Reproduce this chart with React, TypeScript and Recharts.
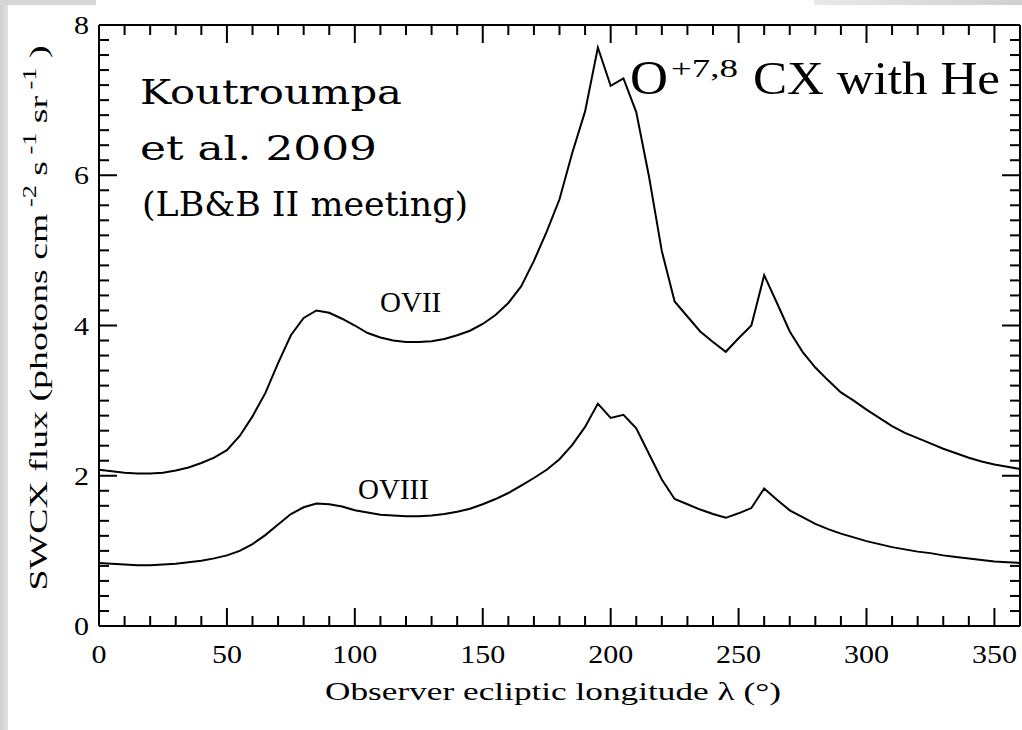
import React from 'react';
import { LineChart, Line, XAxis, YAxis } from 'recharts';

// Observer ecliptic longitude (degrees), sampled every 5°
const longitudes = [
  0, 5, 10, 15, 20, 25, 30, 35, 40, 45, 50, 55, 60, 65, 70, 75, 80, 85, 90, 95,
  100, 105, 110, 115, 120, 125, 130, 135, 140, 145, 150, 155, 160, 165, 170, 175,
  180, 185, 190, 195, 200, 205, 210, 215, 220, 225, 230, 235, 240, 245, 250, 255,
  260, 265, 270, 275, 280, 285, 290, 295, 300, 305, 310, 315, 320, 325, 330, 335,
  340, 345, 350, 355, 360,
];

// SWCX flux, O VII (photons cm^-2 s^-1 sr^-1)
const oviiFlux = [
  2.08, 2.06, 2.04, 2.03, 2.03, 2.04, 2.07, 2.11, 2.17, 2.24, 2.34, 2.53, 2.79, 3.1, 3.5, 3.87, 4.1, 4.2, 4.17, 4.09,
  4.0, 3.9, 3.84, 3.8, 3.78, 3.78, 3.79, 3.82, 3.87, 3.93, 4.02, 4.14, 4.3, 4.52, 4.86, 5.25,
  5.68, 6.3, 6.85, 7.7, 7.19, 7.29, 6.84, 5.98, 4.99, 4.32, 4.12, 3.92, 3.78, 3.65, 3.83, 4.0,
  4.67, 4.3, 3.92, 3.65, 3.44, 3.27, 3.11, 3.0, 2.88, 2.77, 2.66, 2.57, 2.5, 2.43, 2.36, 2.3,
  2.24, 2.19, 2.15, 2.12, 2.09,
];

// SWCX flux, O VIII
const oviiiFlux = [
  0.84, 0.83, 0.82, 0.81, 0.81, 0.82, 0.83, 0.85, 0.87, 0.9, 0.94, 1.0, 1.09, 1.21, 1.35, 1.49, 1.58, 1.63, 1.62, 1.59,
  1.54, 1.51, 1.48, 1.47, 1.46, 1.46, 1.47, 1.49, 1.52, 1.56, 1.62, 1.69, 1.77, 1.87, 1.97, 2.08,
  2.22, 2.41, 2.65, 2.96, 2.77, 2.81, 2.63, 2.29, 1.95, 1.69, 1.62, 1.55, 1.49, 1.44, 1.5, 1.57,
  1.83, 1.68, 1.54, 1.45, 1.36, 1.29, 1.23, 1.18, 1.13, 1.09, 1.05, 1.02, 0.99, 0.97, 0.94, 0.92,
  0.9, 0.88, 0.86, 0.85, 0.84,
];

// Axis ticks: minor every 10° / 0.2, labelled majors every 50° / 2
const xTicks = Array.from({ length: 37 }, (_, i) => i * 10);
const yTicks = Array.from({ length: 41 }, (_, i) => Math.round(i * 2) / 10);
const xMajorStep = 50;
const yMajorStep = 2;

const data = longitudes.map((lam, i) => ({ lam, ovii: oviiFlux[i], oviii: oviiiFlux[i] }));

const SERIF = '"Liberation Serif", "Times New Roman", serif';
const MAJOR = 18;
const MINOR = 10;

const isMajor = (v: number, step: number) => Math.abs(v / step - Math.round(v / step)) < 1e-6;

const BottomTick = (props: any) => {
  const { x, y, payload } = props;
  const v = payload.value as number;
  const major = isMajor(v, xMajorStep);
  return (
    <g>
      <line x1={x} y1={y} x2={x} y2={y - (major ? MAJOR : MINOR)} stroke="#000" strokeWidth={2} />
      {major && (
        <text
          transform={`translate(${x},${y + 37}) scale(1.2,1)`}
          textAnchor="middle"
          fontFamily={SERIF}
          fontSize={25}
          fill="#000"
        >
          {v}
        </text>
      )}
    </g>
  );
};

const TopTick = (props: any) => {
  const { x, y, payload } = props;
  const major = isMajor(payload.value, xMajorStep);
  return <line x1={x} y1={y} x2={x} y2={y + (major ? MAJOR : MINOR)} stroke="#000" strokeWidth={2} />;
};

const LeftTick = (props: any) => {
  const { x, y, payload } = props;
  const v = payload.value as number;
  const major = isMajor(v, yMajorStep);
  return (
    <g>
      <line x1={x} y1={y} x2={x + (major ? MAJOR : MINOR)} y2={y} stroke="#000" strokeWidth={2} />
      {major && (
        <text
          transform={`translate(${x - 10},${y + 9}) scale(1.2,1)`}
          textAnchor="end"
          fontFamily={SERIF}
          fontSize={25}
          fill="#000"
        >
          {v}
        </text>
      )}
    </g>
  );
};

const RightTick = (props: any) => {
  const { x, y, payload } = props;
  const major = isMajor(payload.value, yMajorStep);
  return <line x1={x} y1={y} x2={x - (major ? MAJOR : MINOR)} y2={y} stroke="#000" strokeWidth={2} />;
};

const axisLine = { stroke: '#000', strokeWidth: 2 };

export default function App() {
  return (
    <div style={{ position: 'absolute', left: 0, top: 0, width: 1022, height: 730, background: '#fff', overflow: 'hidden' }}>
      <div style={{ position: 'absolute', left: 0, top: 0, width: 8, height: 730, background: 'linear-gradient(to right, #cfcfcf, #e2e2e2)' }} />
      <div style={{ position: 'absolute', left: 0, top: 0, width: 96, height: 5, background: '#d6d6d6' }} />
      <div style={{ position: 'absolute', left: 814, top: 0, width: 208, height: 5, background: 'linear-gradient(to right, #e8e8e8, #d0d0d0)' }} />
      <LineChart
        width={1022}
        height={730}
        data={data}
        margin={{ top: 24, right: 1, bottom: 103, left: 98 }}
        style={{ position: 'absolute', left: 0, top: 0 }}
      >
        <XAxis
          xAxisId="bottom"
          dataKey="lam"
          type="number"
          domain={[0, 360]}
          ticks={xTicks}
          interval={0}
          height={1}
          tickSize={0}
          tickMargin={0}
          tickLine={false}
          axisLine={axisLine}
          tick={(p: any) => <BottomTick {...p} />}
        />
        <XAxis
          xAxisId="top"
          orientation="top"
          dataKey="lam"
          type="number"
          domain={[0, 360]}
          ticks={xTicks}
          interval={0}
          height={1}
          tickSize={0}
          tickMargin={0}
          tickLine={false}
          axisLine={axisLine}
          tick={(p: any) => <TopTick {...p} />}
        />
        <YAxis
          yAxisId="left"
          type="number"
          domain={[0, 8]}
          ticks={yTicks}
          interval={0}
          width={1}
          tickSize={0}
          tickMargin={0}
          tickLine={false}
          axisLine={axisLine}
          tick={(p: any) => <LeftTick {...p} />}
        />
        <YAxis
          yAxisId="right"
          orientation="right"
          type="number"
          domain={[0, 8]}
          ticks={yTicks}
          interval={0}
          width={1}
          tickSize={0}
          tickMargin={0}
          tickLine={false}
          axisLine={axisLine}
          tick={(p: any) => <RightTick {...p} />}
        />
        <Line
          xAxisId="bottom"
          yAxisId="left"
          type="linear"
          dataKey="ovii"
          stroke="#000"
          strokeWidth={2}
          dot={false}
          isAnimationActive={false}
        />
        <Line
          xAxisId="top"
          yAxisId="right"
          type="linear"
          dataKey="oviii"
          stroke="#000"
          strokeWidth={2}
          dot={false}
          isAnimationActive={false}
        />

        {/* series labels */}
        <text x={380} y={312} fontFamily={SERIF} fontSize={29} fill="#000">OVII</text>
        <text x={358} y={499} fontFamily={SERIF} fontSize={29} fill="#000">OVIII</text>

        {/* source note */}
        <g fontFamily='"DejaVu Serif", serif' fontSize={33} fill="#000">
          <text x={140} y={104} textLength={262} lengthAdjust="spacingAndGlyphs">Koutroumpa</text>
          <text x={140} y={160} textLength={237} lengthAdjust="spacingAndGlyphs">et al. 2009</text>
          <text x={142} y={216} textLength={326} lengthAdjust="spacingAndGlyphs">(LB&amp;B II meeting)</text>
        </g>

        {/* process label */}
        <g fontFamily={SERIF} fill="#000">
          <text x={630} y={94} fontSize={48} textLength={38} lengthAdjust="spacingAndGlyphs">O</text>
          <text x={671} y={77} fontSize={26} textLength={67} lengthAdjust="spacingAndGlyphs">+7,8</text>
          <text x={753} y={94} fontSize={46} textLength={247} lengthAdjust="spacingAndGlyphs">CX with He</text>
        </g>

        {/* axis titles */}
        <text
          x={553}
          y={700}
          textAnchor="middle"
          fontFamily={SERIF}
          fontSize={26}
          fill="#000"
          textLength={456}
          lengthAdjust="spacingAndGlyphs"
        >
          Observer ecliptic longitude λ (°)
        </text>
        <text
          transform="translate(47,318) rotate(-90)"
          textAnchor="middle"
          fontFamily={SERIF}
          fontSize={26}
          fill="#000"
          textLength={545}
          lengthAdjust="spacingAndGlyphs"
        >
          SWCX flux (photons cm
          <tspan fontSize={18} dy={-11}> -2</tspan>
          <tspan dy={11}> s</tspan>
          <tspan fontSize={18} dy={-11}> -1</tspan>
          <tspan dy={11}> sr</tspan>
          <tspan fontSize={18} dy={-11}> -1</tspan>
          <tspan dy={11}> )</tspan>
        </text>
      </LineChart>
    </div>
  );
}
